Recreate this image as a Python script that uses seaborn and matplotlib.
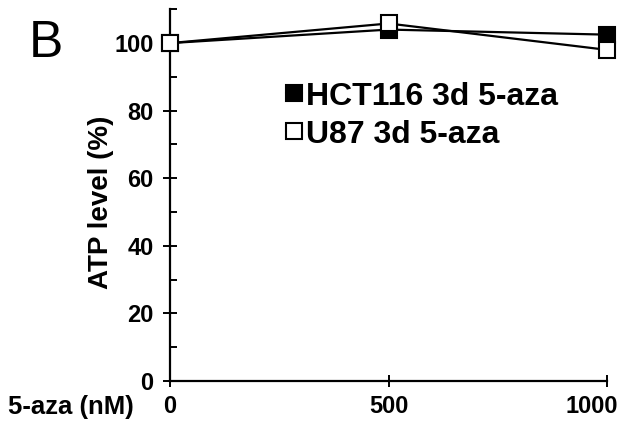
import pandas as pd
import matplotlib.pyplot as plt
import seaborn as sns
import matplotlib.transforms as mtransforms
from matplotlib.ticker import MultipleLocator

sns.set_style("ticks")
plt.rcParams['font.family'] = ['Liberation Sans', 'DejaVu Sans']
plt.rcParams['font.weight'] = 'bold'
plt.rcParams['text.color'] = 'black'
plt.rcParams['axes.labelcolor'] = 'black'
plt.rcParams['xtick.color'] = 'black'
plt.rcParams['ytick.color'] = 'black'
plt.rcParams['axes.edgecolor'] = 'black'

dose = [0, 500, 1000]
hct116 = [100, 104, 102.5]
u87 = [100, 105.8, 98]
series_names = ["HCT116 3d 5-aza", "U87 3d 5-aza"]

df = pd.DataFrame({
    "dose": dose * 2,
    "atp": hct116 + u87,
    "line": [series_names[0]] * 3 + [series_names[1]] * 3,
})

fig = plt.figure(figsize=(6.3, 4.23), dpi=100)
ax = fig.add_axes([0.27, 0.0993, 0.6935, 0.8787])

fills = {series_names[0]: "black", series_names[1]: "white"}
for name in series_names:
    sub = df[df["line"] == name]
    sns.lineplot(data=sub, x="dose", y="atp", ax=ax, color="black", lw=1.6,
                 marker="s", markersize=11, markerfacecolor=fills[name],
                 markeredgecolor="black", markeredgewidth=1.5,
                 label=name, clip_on=False, zorder=3)

ax.set_xlim(0, 1000)
ax.set_ylim(0, 110)
ax.set_xticks(dose)
ax.set_yticks([0, 20, 40, 60, 80, 100])
ax.yaxis.set_minor_locator(MultipleLocator(10))
sns.despine(ax=ax)
for s in ["left", "bottom"]:
    ax.spines[s].set_linewidth(1.6)
ax.tick_params(axis="y", which="major", direction="inout", length=10, width=1.4,
               labelsize=17, pad=7)
ax.tick_params(axis="y", which="minor", direction="in", length=5, width=1.4)
ax.tick_params(axis="x", which="major", direction="inout", length=8, width=1.4,
               labelsize=17, pad=6)
for t in ax.get_xticklabels() + ax.get_yticklabels():
    t.set_fontweight("bold")
# last x label sits a little left of its tick, as in the reference
last = ax.get_xticklabels()[-1]
last.set_transform(last.get_transform() +
                   mtransforms.ScaledTranslation(-0.15, 0, fig.dpi_scale_trans))

ax.set_xlabel("")
ax.set_ylabel("ATP level (%)", fontsize=20, fontweight="bold")
ax.yaxis.set_label_coords(-0.128, 0.48)
fig.text(0.013, 0.038, "5-aza (nM)", fontsize=18.5, fontweight="bold", va="center")
fig.text(0.045, 0.866, "B", fontsize=37, fontweight="normal", va="baseline")

leg = ax.legend(loc="upper left", bbox_to_anchor=(0.235, 0.84), frameon=False,
                handlelength=0.5, handletextpad=0.15, labelspacing=0.25,
                prop={"size": 23, "weight": "bold"}, borderaxespad=0)

fig.savefig("out.png", dpi=100)
